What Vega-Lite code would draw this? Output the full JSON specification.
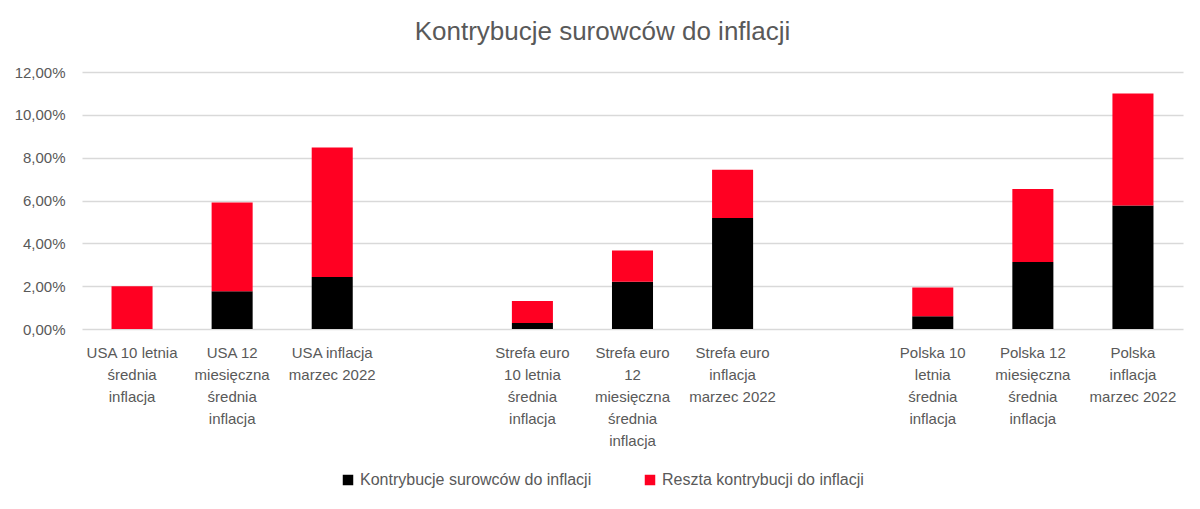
{
  "$schema": "https://vega.github.io/schema/vega-lite/v6.json",
  "width": 1101,
  "height": 257,
  "autosize": "none",
  "padding": {"left": 82, "top": 72, "right": 17, "bottom": 180},
  "background": "white",
  "title": {
    "text": "Kontrybucje surowców do inflacji",
    "font": "Liberation Sans",
    "fontSize": 26,
    "fontWeight": "normal",
    "color": "#595959",
    "anchor": "middle",
    "offset": 20,
    "dx": -30
  },
  "data": {
    "values": [
      {"kat": "USA 10 letnia|średnia|inflacja", "seria": "Kontrybucje surowców do inflacji", "ord": 1, "v": 0},
      {"kat": "USA 10 letnia|średnia|inflacja", "seria": "Reszta kontrybucji do inflacji", "ord": 2, "v": 2.0},
      {"kat": "USA 12|miesięczna|średnia|inflacja", "seria": "Kontrybucje surowców do inflacji", "ord": 1, "v": 1.76},
      {"kat": "USA 12|miesięczna|średnia|inflacja", "seria": "Reszta kontrybucji do inflacji", "ord": 2, "v": 4.15},
      {"kat": "USA inflacja|marzec 2022", "seria": "Kontrybucje surowców do inflacji", "ord": 1, "v": 2.43},
      {"kat": "USA inflacja|marzec 2022", "seria": "Reszta kontrybucji do inflacji", "ord": 2, "v": 6.05},
      {"kat": "Strefa euro|10 letnia|średnia|inflacja", "seria": "Kontrybucje surowców do inflacji", "ord": 1, "v": 0.28},
      {"kat": "Strefa euro|10 letnia|średnia|inflacja", "seria": "Reszta kontrybucji do inflacji", "ord": 2, "v": 1.03},
      {"kat": "Strefa euro|12|miesięczna|średnia|inflacja", "seria": "Kontrybucje surowców do inflacji", "ord": 1, "v": 2.21},
      {"kat": "Strefa euro|12|miesięczna|średnia|inflacja", "seria": "Reszta kontrybucji do inflacji", "ord": 2, "v": 1.45},
      {"kat": "Strefa euro|inflacja|marzec 2022", "seria": "Kontrybucje surowców do inflacji", "ord": 1, "v": 5.18},
      {"kat": "Strefa euro|inflacja|marzec 2022", "seria": "Reszta kontrybucji do inflacji", "ord": 2, "v": 2.26},
      {"kat": "Polska 10|letnia|średnia|inflacja", "seria": "Kontrybucje surowców do inflacji", "ord": 1, "v": 0.59},
      {"kat": "Polska 10|letnia|średnia|inflacja", "seria": "Reszta kontrybucji do inflacji", "ord": 2, "v": 1.35},
      {"kat": "Polska 12|miesięczna|średnia|inflacja", "seria": "Kontrybucje surowców do inflacji", "ord": 1, "v": 3.13},
      {"kat": "Polska 12|miesięczna|średnia|inflacja", "seria": "Reszta kontrybucji do inflacji", "ord": 2, "v": 3.41},
      {"kat": "Polska|inflacja|marzec 2022", "seria": "Kontrybucje surowców do inflacji", "ord": 1, "v": 5.77},
      {"kat": "Polska|inflacja|marzec 2022", "seria": "Reszta kontrybucji do inflacji", "ord": 2, "v": 5.23}
    ]
  },
  "mark": {"type": "bar"},
  "encoding": {
    "x": {
      "field": "kat",
      "type": "nominal",
      "sort": null,
      "scale": {
        "domain": [
          "USA 10 letnia|średnia|inflacja",
          "USA 12|miesięczna|średnia|inflacja",
          "USA inflacja|marzec 2022",
          "gap1",
          "Strefa euro|10 letnia|średnia|inflacja",
          "Strefa euro|12|miesięczna|średnia|inflacja",
          "Strefa euro|inflacja|marzec 2022",
          "gap2",
          "Polska 10|letnia|średnia|inflacja",
          "Polska 12|miesięczna|średnia|inflacja",
          "Polska|inflacja|marzec 2022"
        ],
        "paddingInner": 0.59,
        "paddingOuter": 0.295
      },
      "axis": {
        "title": null,
        "labelAngle": 0,
        "labelExpr": "indexof(datum.value, 'gap') == 0 ? '' : split(datum.value, '|')",
        "labelFont": "Liberation Sans",
        "labelFontSize": 15,
        "labelColor": "#595959",
        "labelLineHeight": 22,
        "labelPadding": 16,
        "labelLimit": 0,
        "ticks": false,
        "domain": false,
        "grid": false
      }
    },
    "y": {
      "field": "v",
      "type": "quantitative",
      "stack": "zero",
      "scale": {"domain": [0, 12], "nice": false},
      "axis": {
        "title": null,
        "values": [0, 2, 4, 6, 8, 10, 12],
        "labelExpr": "replace(format(datum.value, '.2f'), '.', ',') + '%'",
        "labelFont": "Liberation Sans",
        "labelFontSize": 15,
        "labelColor": "#595959",
        "labelPadding": 17,
        "ticks": false,
        "domain": false,
        "grid": true,
        "gridColor": "#d9d9d9",
        "gridWidth": 1.5
      }
    },
    "color": {
      "field": "seria",
      "type": "nominal",
      "scale": {
        "domain": ["Kontrybucje surowców do inflacji", "Reszta kontrybucji do inflacji"],
        "range": ["#000000", "#ff0022"]
      },
      "legend": {
        "title": null,
        "orient": "none",
        "direction": "horizontal",
        "legendX": 258,
        "legendY": 400,
        "symbolType": "square",
        "symbolSize": 110,
        "symbolStrokeWidth": 0,
        "labelFont": "Liberation Sans",
        "labelFontSize": 16,
        "labelColor": "#595959",
        "labelLimit": 0,
        "columnPadding": 50,
        "labelOffset": 4
      }
    },
    "order": {"field": "ord", "type": "quantitative"}
  },
  "config": {"view": {"stroke": null}}
}
